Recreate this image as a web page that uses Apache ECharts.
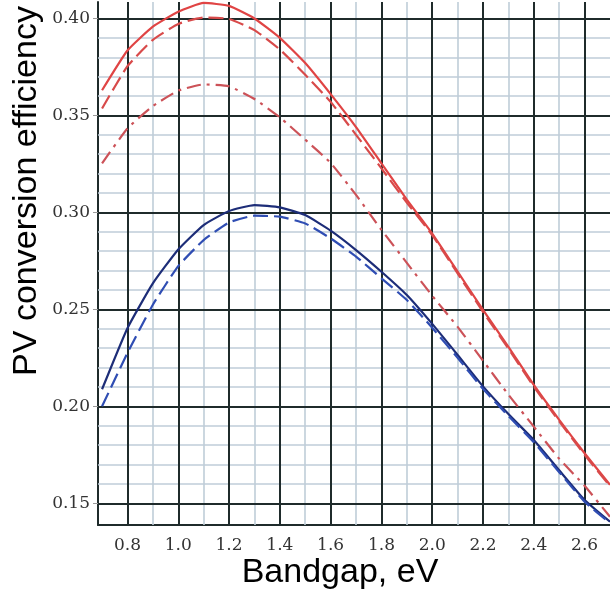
<!DOCTYPE html>
<html><head><meta charset="utf-8">
<script src="https://cdn.jsdelivr.net/npm/echarts@6/dist/echarts.min.js"></script>
<style>html,body{margin:0;padding:0;background:#fff}#c{width:610px;height:597px}</style>
</head><body><div id="c"></div>
<script>
// Data
const bandgap    = [0.7,0.8,0.9,1.0,1.1,1.2,1.3,1.4,1.5,1.6,1.7,1.8,1.9,2.0,2.1,2.2,2.3,2.4,2.5,2.6,2.7];
const redSolid   = [0.363,0.3835,0.3958,0.4035,0.408,0.4065,0.400,0.390,0.377,0.361,0.344,0.3253,0.3066,0.2891,0.2695,0.2497,0.2307,0.211,0.193,0.1758,0.1595];
const redDashed  = [0.3536,0.3754,0.389,0.3972,0.4005,0.3998,0.394,0.384,0.371,0.357,0.340,0.3227,0.305,0.2883,0.2685,0.2487,0.2297,0.2102,0.1922,0.1750,0.1588];
const redDashDot = [0.3253,0.3433,0.3548,0.3628,0.366,0.365,0.3585,0.349,0.3375,0.3255,0.309,0.291,0.274,0.257,0.241,0.2235,0.206,0.1895,0.173,0.159,0.143];
const blueSolid  = [0.2088,0.2403,0.2634,0.2809,0.2935,0.3007,0.3038,0.3026,0.2986,0.2906,0.2806,0.2694,0.2574,0.2425,0.2265,0.2103,0.1960,0.1826,0.1670,0.1517,0.1405];
const blueDashed = [0.200,0.2275,0.2524,0.2723,0.2857,0.2948,0.2983,0.2978,0.2943,0.2866,0.2772,0.266,0.2548,0.2405,0.225,0.209,0.195,0.1815,0.166,0.1508,0.1398];
const xTickLabels = [0.8,1.0,1.2,1.4,1.6,1.8,2.0,2.2,2.4,2.6];
const xMinorLines = [0.9,1.1,1.3,1.5,1.7,1.9,2.1,2.3,2.5];
const yTickLabels = [0.15,0.20,0.25,0.30,0.35,0.40];
const yMinorLines = [0.16,0.17,0.18,0.19,0.21,0.22,0.23,0.24,0.26,0.27,0.28,0.29,0.31,0.32,0.33,0.34,0.36,0.37,0.38,0.39];
const xTitle = 'Bandgap, eV';
const yTitle = 'PV conversion efficiency';

const pairs = ys => bandgap.map((x,i)=>[x, ys[i]]);
const majorStyle = {color:'#1f2b2b', width:2, type:'solid'};
const minorStyle = {color:'#bfcdd8', width:1.6, type:'solid'};

const gridLines = [].concat(
  xMinorLines.map(v=>({xAxis:v, lineStyle:minorStyle})),
  yMinorLines.map(v=>({yAxis:v, lineStyle:minorStyle})),
  xTickLabels.map(v=>({xAxis:v, lineStyle:majorStyle})),
  yTickLabels.map(v=>({yAxis:v, lineStyle:majorStyle}))
);

function lineSeries(name, ys, color, type, width){
  return {name, type:'line', data:pairs(ys), smooth:0.15, showSymbol:false, symbol:'none',
    z:5, silent:true, lineStyle:{color, width:width||2, type}};
}

const chart = echarts.init(document.getElementById('c'), null, {renderer:'canvas'});
chart.setOption({
  animation:false,
  backgroundColor:'#ffffff',
  grid:{left:98, right:0, top:2, bottom:72, containLabel:false},
  xAxis:{type:'value', min:0.684, max:2.7,
    axisLine:{show:true, onZero:false, lineStyle:{color:'#1f2b2b', width:2}},
    axisTick:{show:false},
    splitLine:{show:false},
    axisLabel:{customValues:xTickLabels, formatter:v=>Number(v).toFixed(1), margin:12,
      fontFamily:'DejaVu Serif', fontSize:17, color:'#333'}
  },
  yAxis:{type:'value', min:0.1388, max:0.4085,
    axisLine:{show:true, onZero:false, lineStyle:{color:'#1f2b2b', width:2}},
    axisTick:{show:true, customValues:yTickLabels, length:5, lineStyle:{color:'#999', width:1}},
    splitLine:{show:false},
    axisLabel:{customValues:yTickLabels, formatter:v=>Number(v).toFixed(2), margin:8,
      fontFamily:'DejaVu Serif', fontSize:17, color:'#333'}
  },
  graphic:[
    {type:'text', x:27, y:191, rotation:Math.PI/2,
      style:{text:yTitle, font:'34px "Liberation Sans", Arial, sans-serif', fill:'#000', textAlign:'center', textVerticalAlign:'middle'}},
    {type:'text', x:340, y:573,
      style:{text:xTitle, font:'34px "Liberation Sans", Arial, sans-serif', fill:'#000', textAlign:'center', textVerticalAlign:'middle'}}
  ],
  series:[
    {name:'grid', type:'line', data:[], z:1, silent:true,
      markLine:{silent:true, symbol:['none','none'], label:{show:false}, animation:false, data:gridLines}},
    lineSeries('red solid', redSolid, '#e04444', 'solid', 2.2),
    lineSeries('red dashed', redDashed, '#d84a4a', [15,6], 2.2),
    lineSeries('red dash-dot', redDashDot, '#cc5258', [14,6,3,6], 2.2),
    lineSeries('blue solid', blueSolid, '#1d2d78', 'solid', 2.2),
    lineSeries('blue dashed', blueDashed, '#2f4db3', [15,6], 2.2)
  ]
});
</script></body></html>
